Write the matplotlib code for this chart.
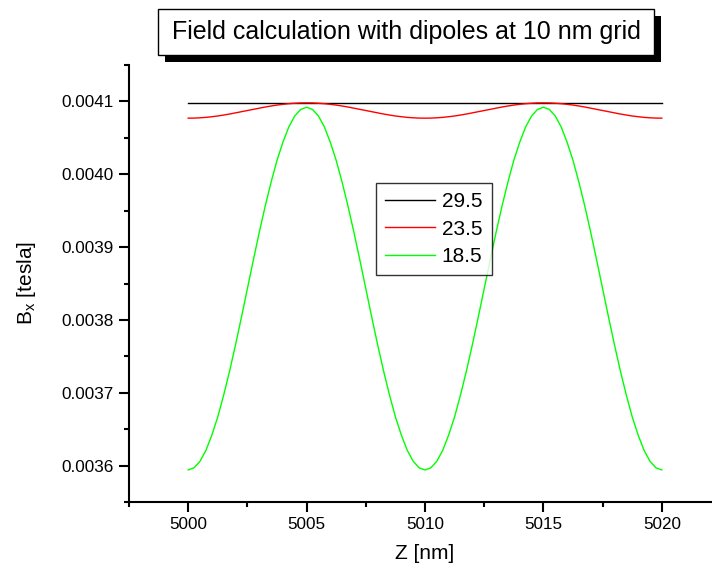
import numpy as np
import matplotlib
matplotlib.use('Agg')
import matplotlib.pyplot as plt
from matplotlib.patches import Rectangle
from matplotlib.ticker import MultipleLocator, FormatStrFormatter

plt.rcParams['font.family'] = ['Liberation Sans', 'DejaVu Sans']

# Z positions (nm), 0.25 nm steps
z = [5000 + 0.25 * k for k in range(81)]

# B_x [tesla] for the three heights
b_295 = [0.004098] * 81

b_235 = [
    0.0040770, 0.0040771, 0.0040775, 0.0040781, 0.0040790, 0.0040800, 0.0040813, 0.0040827,
    0.0040843, 0.0040859, 0.0040875, 0.0040891, 0.0040907, 0.0040923, 0.0040937, 0.0040950,
    0.0040960, 0.0040969, 0.0040975, 0.0040979, 0.0040980,
    0.0040979, 0.0040975, 0.0040969, 0.0040960, 0.0040950, 0.0040937, 0.0040923, 0.0040907,
    0.0040891, 0.0040875, 0.0040859, 0.0040843, 0.0040827, 0.0040813, 0.0040800, 0.0040790,
    0.0040781, 0.0040775, 0.0040771, 0.0040770,
    0.0040771, 0.0040775, 0.0040781, 0.0040790, 0.0040800, 0.0040813, 0.0040827, 0.0040843,
    0.0040859, 0.0040875, 0.0040891, 0.0040907, 0.0040923, 0.0040937, 0.0040950, 0.0040960,
    0.0040969, 0.0040975, 0.0040979, 0.0040980,
    0.0040979, 0.0040975, 0.0040969, 0.0040960, 0.0040950, 0.0040937, 0.0040923, 0.0040907,
    0.0040891, 0.0040875, 0.0040859, 0.0040843, 0.0040827, 0.0040813, 0.0040800, 0.0040790,
    0.0040781, 0.0040775, 0.0040771, 0.0040770,
]

b_185 = [
    0.003594, 0.003597, 0.003606, 0.003621, 0.003642, 0.003667, 0.003697, 0.003730,
    0.003766, 0.003804, 0.003843, 0.003882, 0.003920, 0.003956, 0.003989, 0.004019,
    0.004044, 0.004065, 0.004080, 0.004089, 0.004092,
    0.004089, 0.004080, 0.004065, 0.004044, 0.004019, 0.003989, 0.003956, 0.003920,
    0.003882, 0.003843, 0.003804, 0.003766, 0.003730, 0.003697, 0.003667, 0.003642,
    0.003621, 0.003606, 0.003597, 0.003594,
    0.003597, 0.003606, 0.003621, 0.003642, 0.003667, 0.003697, 0.003730, 0.003766,
    0.003804, 0.003843, 0.003882, 0.003920, 0.003956, 0.003989, 0.004019, 0.004044,
    0.004065, 0.004080, 0.004089, 0.004092,
    0.004089, 0.004080, 0.004065, 0.004044, 0.004019, 0.003989, 0.003956, 0.003920,
    0.003882, 0.003843, 0.003804, 0.003766, 0.003730, 0.003697, 0.003667, 0.003642,
    0.003621, 0.003606, 0.003597, 0.003594,
]

labels = ['29.5', '23.5', '18.5']
colors = ['black', '#ff0000', '#00ff00']

W, H = 712, 569
fig = plt.figure(figsize=(W / 100, H / 100), dpi=100)

# axes box in pixels: left 129, right 721, top 65, bottom 502
ax = fig.add_axes([129 / W, (H - 502) / H, (721 - 129) / W, (502 - 65) / H])

for y, lab, c in zip([b_295, b_235, b_185], labels, colors):
    ax.plot(z, y, color=c, lw=1.0, label=lab)

ax.set_xlim(4997.5, 5022.5)
ax.set_ylim(0.00355, 0.00415)
ax.xaxis.set_major_locator(MultipleLocator(5))
ax.xaxis.set_minor_locator(MultipleLocator(2.5))
ax.yaxis.set_major_locator(MultipleLocator(0.0001))
ax.yaxis.set_minor_locator(MultipleLocator(0.00005))
ax.yaxis.set_major_formatter(FormatStrFormatter('%.4f'))

for s in ['top', 'right']:
    ax.spines[s].set_visible(False)
for s in ['left', 'bottom']:
    ax.spines[s].set_linewidth(1.5)
ax.tick_params(which='major', length=7, width=1.5, labelsize=12.3, pad=4)
ax.tick_params(which='minor', length=3.5, width=1.5)

ax.set_xlabel('Z [nm]', fontsize=15, labelpad=8.5)
ax.set_ylabel('B$_\\mathregular{x}$ [tesla]', fontsize=15, labelpad=17)

leg = ax.legend(loc='upper left', bbox_to_anchor=(376 / W, (H - 183) / H),
                bbox_transform=fig.transFigure, fontsize=15, frameon=True,
                fancybox=False, borderaxespad=0, handlelength=2.4,
                handletextpad=0.3, borderpad=0.45, labelspacing=0.4)
leg.get_frame().set_edgecolor('black')
leg.get_frame().set_linewidth(1.0)

# title box with drop shadow
fig.patches.append(Rectangle((165 / W, (H - 62) / H), (661 - 165) / W, (62 - 16) / H,
                             transform=fig.transFigure, facecolor='black',
                             edgecolor='black', lw=0, zorder=1))
fig.patches.append(Rectangle((158 / W, (H - 55) / H), (654 - 158) / W, (55 - 9) / H,
                             transform=fig.transFigure, facecolor='white',
                             edgecolor='black', lw=1.0, zorder=2))
fig.text((158 + 654) / 2 / W, (H - 32) / H, 'Field calculation with dipoles at 10 nm grid',
         fontsize=18, ha='center', va='center', zorder=3)

fig.savefig('out.png', dpi=100)
